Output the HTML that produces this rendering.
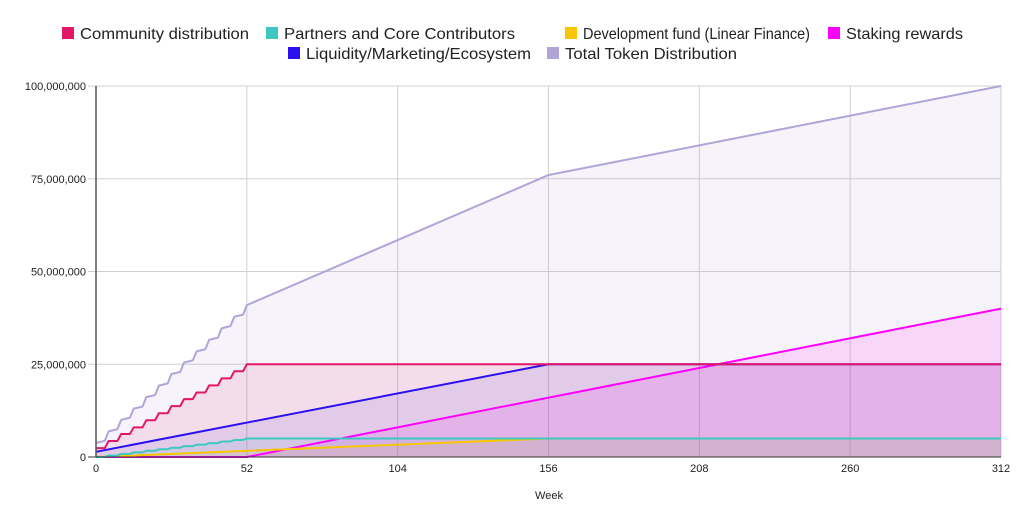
<!DOCTYPE html>
<html><head><meta charset="utf-8"><style>
body{margin:0;background:#fff;font-family:"Liberation Sans",Arial,sans-serif}
svg{display:block}
</style></head><body>
<svg id="c" width="1024" height="525">
<g id="legend" font-size="16" fill="#222">
 <g><rect x="62" y="27" width="12" height="12" fill="#e2176a"/><text x="80" y="39" textLength="169" lengthAdjust="spacingAndGlyphs">Community distribution</text></g>
 <g><rect x="266" y="27" width="12" height="12" fill="#3fc8c0"/><text x="284" y="39" textLength="231" lengthAdjust="spacingAndGlyphs">Partners and Core Contributors</text></g>
 <g><rect x="565" y="27" width="12" height="12" fill="#f8c600"/><text x="583" y="39" textLength="227" lengthAdjust="spacingAndGlyphs">Development fund (Linear Finance)</text></g>
 <g><rect x="828" y="27" width="12" height="12" fill="#ff00ff"/><text x="846" y="39" textLength="117" lengthAdjust="spacingAndGlyphs">Staking rewards</text></g>
 <g><rect x="288" y="47" width="12" height="12" fill="#2b10f0"/><text x="306" y="59" textLength="225" lengthAdjust="spacingAndGlyphs">Liquidity/Marketing/Ecosystem</text></g>
 <g><rect x="547" y="47" width="12" height="12" fill="#b1a4d8"/><text x="565" y="59" textLength="172" lengthAdjust="spacingAndGlyphs">Total Token Distribution</text></g>
</g>
<g id="grid"></g><g id="areas"></g><g id="lines"></g><g id="axes"></g>
<text x="549" y="499" font-size="11" text-anchor="middle" fill="#222">Week</text>
</svg>
<script>
const xTicks=[0,52,104,156,208,260,312];
const yTicks=[0,25000000,50000000,75000000,100000000];
const yTickLabels=["0","25,000,000","50,000,000","75,000,000","100,000,000"];
const communityMonthly=[2.4,4.3,6.2,8.0,9.9,11.8,13.7,15.6,17.4,19.3,21.2,23.1,25]; // millions
const partnersMonthly=[0,0.42,0.83,1.25,1.67,2.08,2.5,2.92,3.33,3.75,4.17,4.58,5];
const liquidityWeeks=[0,156,312], liquidityVals=[1.4,25,25];
const devWeeks=[0,156,312], devVals=[0,5,5];
const stakingWeeks=[0,52,312], stakingVals=[0,0,40];

const X0=96,X1=1001,Y0=457,Y1=86;
const xs=w=>X0+(X1-X0)*w/312;
const ys=v=>Y0-(Y0-Y1)*v/100000000;
const NS="http://www.w3.org/2000/svg";
function mk(t,a,p){const e=document.createElementNS(NS,t);for(const k in a)e.setAttribute(k,a[k]);p.appendChild(e);return e;}
const grid=document.getElementById('grid'),axes=document.getElementById('axes');
xTicks.forEach((w,i)=>{
 const l=mk('line',{x1:xs(w),x2:xs(w),y1:Y1,y2:Y0,stroke:'#d0d0d0'},grid);
 
 
 const t=mk('text',{x:xs(w),y:472,'font-size':11,'text-anchor':'middle',fill:'#222'},axes);t.textContent=w;
 
 
});
yTicks.forEach((v,i)=>{
 const l=mk('line',{x1:X0-8,x2:X1,y1:ys(v),y2:ys(v),stroke:'#d0d0d0'},grid);
 
 
 const t=mk('text',{x:86,y:ys(v)+4,'font-size':11,'text-anchor':'end',fill:'#222'},axes);t.textContent=yTickLabels[i];
 
 
});
mk('line',{x1:X0,x2:X0,y1:Y1,y2:Y0,stroke:'#555','stroke-width':1.5},axes);
mk('line',{x1:X0-8,x2:X1,y1:Y0,y2:Y0,stroke:'#333','stroke-width':1},axes);

function stepPts(m){const p=[],step=52/12;for(let k=0;k<m.length;k++){const t=k*step;if(k>0)p.push([t,m[k]]);if(k<m.length-1)p.push([t+step-1.3,m[k]]);else p.push([t,m[k]]);}p.unshift([0,m[0]]);p.push([312,m[m.length-1]]);return p;}
function linPts(ws,vs){return ws.map((w,i)=>[w,vs[i]]);}
function ev(pts,w){for(let i=1;i<pts.length;i++){if(w<=pts[i][0]){const a=pts[i-1],b=pts[i];const d=b[0]-a[0];return d<=0?b[1]:a[1]+(b[1]-a[1])*(w-a[0])/d;}}return pts[pts.length-1][1];}
const series=[
 {n:'staking',c:'#ff00ff',f:'rgba(255,0,255,0.12)',p:linPts(stakingWeeks,stakingVals)},
 {n:'liquidity',c:'#2b10f0',f:'rgba(60,40,240,0.10)',p:linPts(liquidityWeeks,liquidityVals)},
 {n:'development',c:'#f8c600',f:'rgba(248,198,0,0.10)',p:linPts(devWeeks,devVals)},
 {n:'partners',c:'#3fc8c0',f:'rgba(63,200,192,0.10)',p:stepPts(partnersMonthly)},
 {n:'community',c:'#e2176a',f:'rgba(226,23,106,0.10)',p:stepPts(communityMonthly)}
];
const grid2=[];for(let w=0;w<=312;w+=0.25)grid2.push(w);
const totPts=grid2.map(w=>[w,series.reduce((s,se)=>s+ev(se.p,w),0)]);
series.unshift({n:'total',c:'#b1a4d8',f:'rgba(177,164,216,0.12)',p:totPts});
const areas=document.getElementById('areas'),lines=document.getElementById('lines');
series.forEach(s=>{
 const d=s.p.map((q,i)=>(i?'L':'M')+xs(q[0]).toFixed(2)+','+ys(q[1]*1e6).toFixed(2)).join('');
 const a=mk('path',{d:d+`L${xs(312)},${Y0}L${xs(0)},${Y0}Z`,fill:s.f},areas);
 
 
});
['total','staking','liquidity','development','partners','community'].forEach(n=>{
 const s=series.find(q=>q.n===n);
 const d=s.p.map((q,i)=>(i?'L':'M')+xs(q[0]).toFixed(2)+','+ys(q[1]*1e6).toFixed(2)).join('');
 const l=mk('path',{d:d,fill:'none',stroke:s.c,'stroke-width':2,'stroke-linejoin':'round'},lines);
 
 
});
</script>
</body></html>
